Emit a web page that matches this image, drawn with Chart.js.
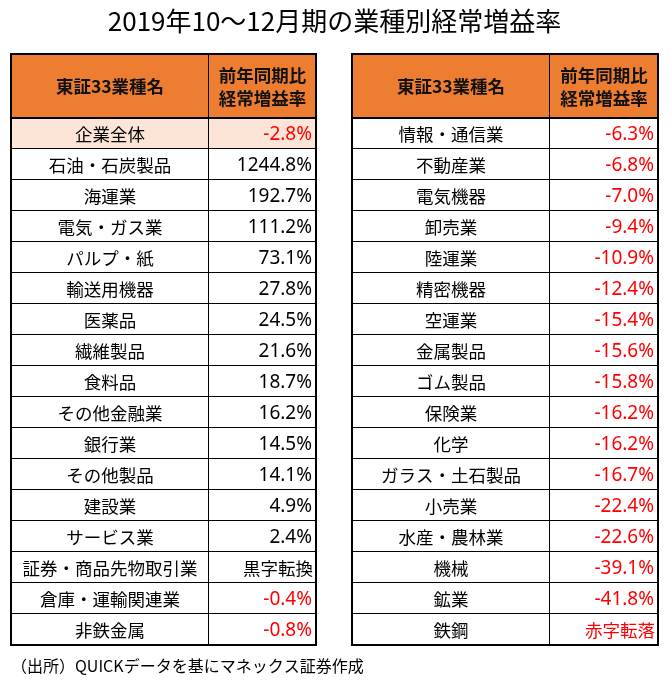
<!DOCTYPE html>
<html>
<head>
<meta charset="utf-8">
<script src="https://cdn.jsdelivr.net/npm/chart.js@4/dist/chart.umd.min.js"></script>
<style>
  html, body { margin: 0; padding: 0; background: #ffffff; }
  #wrap { width: 670px; height: 685px; }
</style>
</head>
<body>
<div id="wrap"><canvas id="c" width="670" height="685"></canvas></div>
<script>
// ---- data ----
const titleText = '2019年10～12月期の業種別経常増益率';
const footerText = '（出所）QUICKデータを基にマネックス証券作成';
const headerNameLabel = '東証33業種名';
const headerValueLabel = ['前年同期比', '経常増益率'];

const leftNames = ['企業全体', '石油・石炭製品', '海運業', '電気・ガス業', 'パルプ・紙', '輸送用機器', '医薬品', '繊維製品', '食料品', 'その他金融業', '銀行業', 'その他製品', '建設業', 'サービス業', '証券・商品先物取引業', '倉庫・運輸関連業', '非鉄金属'];
const leftValues = [-2.8, 1244.8, 192.7, 111.2, 73.1, 27.8, 24.5, 21.6, 18.7, 16.2, 14.5, 14.1, 4.9, 2.4, '黒字転換', -0.4, -0.8];

const rightNames = ['情報・通信業', '不動産業', '電気機器', '卸売業', '陸運業', '精密機器', '空運業', '金属製品', 'ゴム製品', '保険業', '化学', 'ガラス・土石製品', '小売業', '水産・農林業', '機械', '鉱業', '鉄鋼'];
const rightValues = [-6.3, -6.8, -7.0, -9.4, -10.9, -12.4, -15.4, -15.6, -15.8, -16.2, -16.2, -16.7, -22.4, -22.6, -39.1, -41.8, '赤字転落'];

// ---- layout constants (column widths in x-scale units) ----
const NAME_W = 198, VAL_L = 107, VAL_R = 108, GAP = 36;
const LEFT_W = NAME_W + VAL_L, RIGHT_W = NAME_W + VAL_R;
const TOTAL = LEFT_W + GAP + RIGHT_W;
const HEADER_H = 64;

const CJK = "'Noto Sans CJK JP', 'Noto Sans', sans-serif";
const LATIN = "'Noto Sans', 'Noto Sans CJK JP', sans-serif";
const ORANGE = '#ED7D31';
const PEACH = '#FCE4D6';
const RED = '#FF0000';

function isRed(v) { return (typeof v === 'number' && v < 0) || v === '赤字転落'; }

function cellDataset(label, names, width, xId, yId, stack, border, highlightFirst) {
  return {
    label: label,
    data: names.map(() => width),
    xAxisID: xId,
    yAxisID: yId,
    stack: stack,
    grouped: false,
    backgroundColor: (c) => (highlightFirst && c.dataIndex === 0) ? PEACH : '#ffffff',
    borderColor: '#000000',
    borderWidth: border,
    borderSkipped: false,
    inflateAmount: 0,
    barPercentage: 1,
    categoryPercentage: 1
  };
}

const tables = [
  { nameIdx: 0, valIdx: 1, names: leftNames, values: leftValues },
  { nameIdx: 2, valIdx: 3, names: rightNames, values: rightValues }
];

const tablePlugin = {
  id: 'tableText',
  afterDatasetsDraw(chart) {
    const ctx = chart.ctx;
    const top = chart.chartArea.top, bottom = chart.chartArea.bottom;
    ctx.save();
    tables.forEach(t => {
      const nMeta = chart.getDatasetMeta(t.nameIdx);
      const vMeta = chart.getDatasetMeta(t.valIdx);
      const left = nMeta.data[0].base;
      const mid = nMeta.data[0].x;
      const right = vMeta.data[0].x;
      const hTop = top - HEADER_H;

      // header fill
      ctx.fillStyle = ORANGE;
      ctx.fillRect(left, hTop, right - left, HEADER_H);
      // header divider
      ctx.fillStyle = '#000';
      ctx.fillRect(mid - 1, hTop, 1, HEADER_H);

      // header text
      ctx.fillStyle = '#111';
      ctx.textBaseline = 'middle';
      ctx.textAlign = 'center';
      ctx.font = 'bold 17.5px ' + CJK;
      const hc = hTop + HEADER_H / 2;
      ctx.fillText(headerNameLabel, (left + mid) / 2, hc);
      ctx.fillText(headerValueLabel[0], (mid + right) / 2, hc - 11);
      ctx.fillText(headerValueLabel[1], (mid + right) / 2, hc + 12);

      // rows
      t.names.forEach((name, i) => {
        const ne = nMeta.data[i], ve = vMeta.data[i];
        const cy = ne.y + 1;
        ctx.textAlign = 'center';
        ctx.fillStyle = '#000';
        ctx.font = '17.5px ' + CJK;
        ctx.fillText(name, (ne.base + ne.x) / 2, cy);

        const v = t.values[i];
        ctx.textAlign = 'right';
        ctx.fillStyle = isRed(v) ? RED : '#000';
        if (typeof v === 'number') {
          ctx.font = '19px ' + LATIN;
          ctx.fillText(v.toFixed(1) + '%', ve.x - 4, cy);
        } else {
          ctx.font = '17.5px ' + CJK;
          ctx.fillText(v, ve.x - 3, cy);
        }
      });

      // header bottom line + outer border
      ctx.strokeStyle = '#000';
      ctx.lineWidth = 2;
      ctx.beginPath();
      ctx.moveTo(left, top);
      ctx.lineTo(right, top);
      ctx.stroke();
      ctx.strokeRect(left, hTop, right - left, bottom - hTop);
    });
    ctx.restore();
  }
};

new Chart(document.getElementById('c'), {
  type: 'bar',
  data: {
    labels: leftNames,
    datasets: [
      cellDataset('left-name', leftNames, NAME_W, 'xL', 'yL', 'L', { top: 0, left: 0, right: 1, bottom: 1 }, true),
      cellDataset('left-value', leftNames, VAL_L, 'xL', 'yL', 'L', { top: 0, left: 0, right: 0, bottom: 1 }, true),
      cellDataset('right-name', rightNames, NAME_W, 'xR', 'yR', 'R', { top: 0, left: 0, right: 1, bottom: 1 }, false),
      cellDataset('right-value', rightNames, VAL_R, 'xR', 'yR', 'R', { top: 0, left: 0, right: 0, bottom: 1 }, false)
    ]
  },
  options: {
    indexAxis: 'y',
    responsive: false,
    animation: false,
    devicePixelRatio: 1,
    events: [],
    layout: { padding: { left: 11, right: 12, top: 0, bottom: 0 } },
    scales: {
      xL: { axis: 'x', type: 'linear', display: false, stacked: true, min: 0, max: TOTAL },
      xR: { axis: 'x', type: 'linear', display: false, stacked: true, min: -(LEFT_W + GAP), max: RIGHT_W },
      yL: { axis: 'y', type: 'category', labels: leftNames, display: false, stacked: true, offset: true },
      yR: { axis: 'y', type: 'category', labels: rightNames, display: false, stacked: true, offset: true }
    },
    plugins: {
      legend: { display: false },
      tooltip: { enabled: false },
      title: {
        display: true,
        text: titleText,
        color: '#000',
        font: { family: CJK, size: 26, weight: 'normal' },
        padding: { top: 6, bottom: 80.8 }
      },
      subtitle: {
        display: true,
        position: 'bottom',
        align: 'start',
        text: footerText,
        color: '#000',
        font: { family: CJK, size: 16, weight: 'normal' },
        padding: { top: 11.4, bottom: 9.4 }
      }
    }
  },
  plugins: [tablePlugin]
});
</script>
</body>
</html>
